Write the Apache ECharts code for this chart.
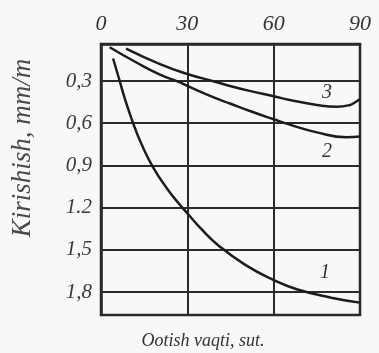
<!DOCTYPE html>
<html>
<head>
<meta charset="utf-8">
<script src="https://cdn.jsdelivr.net/npm/echarts@6/dist/echarts.min.js"></script>
<style>
html,body{margin:0;padding:0;background:#f8f8f7;}
#c{width:379px;height:353px;}
</style>
</head>
<body>
<div id="c"></div>
<script>
const xTicks = [0, 30, 60, 90];
const yTickValues = [0.3, 0.6, 0.9, 1.2, 1.5, 1.8];
const yTickLabels = ['0,3', '0,6', '0,9', '1.2', '1,5', '1,8'];
const yTitle = 'Kirishish, mm/m';
const xTitle = 'Ootish vaqti, sut.';
const curve1 = [[4.2,0.14],[6.5,0.30],[8.2,0.42],[11,0.59],[14.1,0.75],[18,0.91],[22.8,1.06],[27.4,1.18],[30,1.24],[35,1.355],[40.6,1.465],[50,1.605],[60,1.715],[68,1.78],[80,1.84],[90,1.875]];
const curve2 = [[3,0.06],[12,0.165],[20.5,0.255],[26.8,0.305],[30,0.335],[39.6,0.42],[44.8,0.46],[52,0.515],[60,0.572],[65.6,0.61],[75,0.665],[85.3,0.70],[90,0.695]];
const curve3 = [[8.7,0.07],[20.5,0.18],[30,0.25],[39.6,0.305],[44.8,0.335],[52,0.372],[60.4,0.41],[65.6,0.435],[75,0.47],[82,0.483],[86.5,0.47],[88.5,0.449],[90,0.428]];
const curveNames = ['1', '2', '3'];
const curveLabelPos = [[77.8,1.665],[78.5,0.80],[78.5,0.385]];

const ink = '#2a2a2a';
const serif = 'Liberation Serif';

function makeSeries(data, name, labelPos) {
  return {
    type: 'line', data: data, smooth: 0.5, showSymbol: false, symbol: 'none',
    lineStyle: {color: '#1c1c1c', width: 2.5},
    silent: true, animation: false,
    markPoint: {
      symbol: 'circle', symbolSize: 1, itemStyle: {color: 'rgba(0,0,0,0)'},
      label: {show: true, position: 'inside', formatter: name, color: '#333',
        fontFamily: serif, fontStyle: 'italic', fontSize: 20},
      data: [{coord: labelPos}]
    }
  };
}

const chart = echarts.init(document.getElementById('c'));
chart.setOption({
  backgroundColor: '#f8f8f7',
  animation: false,
  grid: {left: 101, right: 19, top: 44, bottom: 38, show: true, borderColor: ink, borderWidth: 2.5, backgroundColor: 'transparent'},
  xAxis: {
    type: 'value', position: 'top', min: xTicks[0], max: xTicks[xTicks.length-1], interval: 30,
    axisLine: {show: true, lineStyle: {color: ink, width: 2.5}},
    axisTick: {show: false},
    splitLine: {show: true, lineStyle: {color: ink, width: 2}},
    axisLabel: {margin: 9, color: '#333', fontFamily: serif, fontStyle: 'italic', fontSize: 22,
      formatter: v => String(v)}
  },
  yAxis: {
    type: 'value', inverse: true, min: 0.037, max: 1.963,
    axisLine: {show: true, lineStyle: {color: ink, width: 2.5}},
    axisTick: {show: false, customValues: yTickValues},
    splitLine: {show: true, lineStyle: {color: ink, width: 2}},
    axisLabel: {margin: 9, color: '#3a3a3a', fontFamily: serif, fontStyle: 'italic', fontSize: 21,
      customValues: yTickValues,
      formatter: v => { const i = yTickValues.findIndex(t => Math.abs(t - v) < 1e-6); return i >= 0 ? yTickLabels[i] : ''; }}
  },
  graphic: [
    {type: 'text', x: 23, y: 148, rotation: Math.PI/2,
      style: {text: yTitle, fill: '#4a4a4a', font: 'italic 27px "Liberation Serif"', textAlign: 'center', textVerticalAlign: 'middle'}},
    {type: 'text', x: 203, y: 341,
      style: {text: xTitle, fill: '#333', font: 'italic 18px "Liberation Serif"', textAlign: 'center', textVerticalAlign: 'middle'}}
  ],
  series: [
    makeSeries(curve1, curveNames[0], curveLabelPos[0]),
    makeSeries(curve2, curveNames[1], curveLabelPos[1]),
    makeSeries(curve3, curveNames[2], curveLabelPos[2])
  ]
});
</script>
</body>
</html>
